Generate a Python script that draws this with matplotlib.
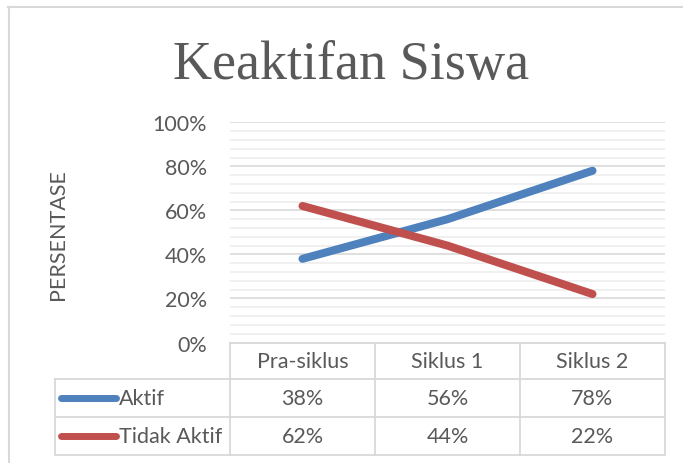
import matplotlib
matplotlib.use("Agg")
import matplotlib.pyplot as plt
import matplotlib.transforms as mtransforms
from matplotlib.ticker import MultipleLocator

# data
categories = ["Pra-siklus", "Siklus 1", "Siklus 2"]
aktif = [0.38, 0.56, 0.78]
tidak_aktif = [0.62, 0.44, 0.22]
series_names = ["Aktif", "Tidak Aktif"]
series_colors = ["#4F81BD", "#C0504D"]
title = "Keaktifan Siswa"
ylabel = "PERSENTASE"

W, H = 683, 464
txt_color = "#595959"
grid_major = "#d9d9d9"
grid_minor = "#eeeeee"
font = "Lato"
fs = 15.5

fig = plt.figure(figsize=(W / 100, H / 100), dpi=100)

# plot area in pixels
left, right, top, bottom = 230, 665, 123.3, 343.5
ax = fig.add_axes([left / W, 1 - bottom / H, (right - left) / W, (bottom - top) / H])
ah = bottom - top

def px2ay(y):
    return (bottom - y) / ah

def px2ax(x):
    return (x - left) / (right - left)

x = list(range(len(categories)))
for vals, c in zip([aktif, tidak_aktif], series_colors):
    ax.plot(x, vals, color=c, lw=5.8, solid_capstyle="round", zorder=3)

ax.set_xlim(-0.5, len(categories) - 0.5)
ax.set_ylim(0, 1)
ax.yaxis.set_major_locator(MultipleLocator(0.2))
ax.yaxis.set_minor_locator(MultipleLocator(0.04))
ax.set_yticks([i / 5 for i in range(6)])
ax.set_yticklabels([f"{i * 20}%" for i in range(6)], fontsize=fs, family=font, color=txt_color)
ax.tick_params(axis="y", which="both", length=0, pad=16.5)
ax.tick_params(axis="x", length=0, labelbottom=False)
ax.grid(True, axis="y", which="major", color=grid_major, lw=1.2)
ax.grid(True, axis="y", which="minor", color=grid_minor, lw=1.2)
ax.set_axisbelow(True)
for s in ax.spines.values():
    s.set_visible(False)

# data table below the plot
tr_xdata = mtransforms.blended_transform_factory(ax.transData, ax.transAxes)
tr = ax.transAxes
rows_px = [343.5, 379.5, 417.7, 455.7]
rows = [px2ay(r) for r in rows_px]
tbl_left = px2ax(55)
lc = grid_major
lw_t = 1.3

# horizontal borders
ax.plot([0, 1], [rows[0], rows[0]], transform=tr, color=lc, lw=lw_t, clip_on=False)
for r in rows[1:]:
    ax.plot([tbl_left, 1], [r, r], transform=tr, color=lc, lw=lw_t, clip_on=False)
# vertical borders
for xb in [-0.5, 0.5, 1.5, 2.5]:
    ax.plot([xb, xb], [rows[0], rows[-1]], transform=tr_xdata, color=lc, lw=lw_t, clip_on=False)
ax.plot([tbl_left, tbl_left], [rows[1], rows[-1]], transform=tr, color=lc, lw=lw_t, clip_on=False)

centers = [(rows[i] + rows[i + 1]) / 2 for i in range(3)]
for xi, cat in zip(x, categories):
    ax.text(xi, centers[0], cat, transform=tr_xdata, ha="center", va="center",
            fontsize=fs, family=font, color=txt_color)
for ri, (name, vals, c) in enumerate(zip(series_names, [aktif, tidak_aktif], series_colors)):
    yc = centers[ri + 1]
    ax.plot([px2ax(61), px2ax(116)], [yc, yc], transform=tr, color=c, lw=5.0,
            solid_capstyle="round", clip_on=False)
    ax.text(px2ax(119), yc, name, transform=tr, ha="left", va="center",
            fontsize=fs, family=font, color=txt_color)
    for xi, v in zip(x, vals):
        ax.text(xi, yc, f"{round(v * 100)}%", transform=tr_xdata, ha="center", va="center",
                fontsize=fs, family=font, color=txt_color)

# title and axis label
fig.text(351.5 / W, 1 - 79.3 / H, title, ha="center", va="baseline",
         fontsize=39, family="Liberation Serif", color=txt_color)
fig.text(58 / W, 1 - 234.5 / H, ylabel, ha="center", va="center", rotation=90,
         fontsize=fs, family=font, color=txt_color)

# chart frame
fig.add_artist(plt.Line2D([8 / W, 1], [1 - 7.5 / H] * 2, transform=fig.transFigure,
                          color=grid_major, lw=1.5))
fig.add_artist(plt.Line2D([8.5 / W] * 2, [0, 1 - 7.5 / H], transform=fig.transFigure,
                          color=grid_major, lw=1.5))

fig.savefig("out.png", dpi=100, facecolor="white")
